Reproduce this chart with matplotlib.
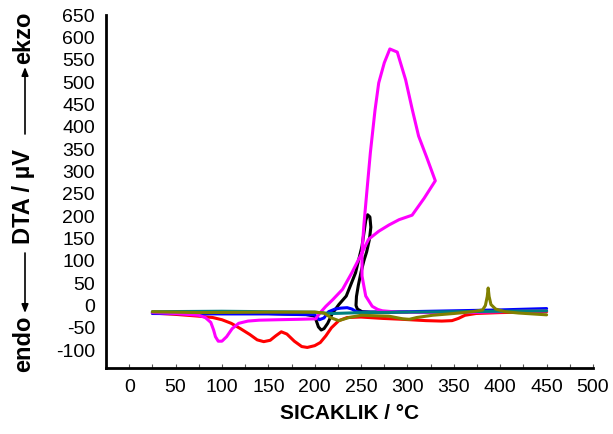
import matplotlib
matplotlib.use("Agg")
import matplotlib.pyplot as plt
from matplotlib.ticker import MultipleLocator

plt.rcParams['font.family'] = ['Liberation Sans', 'DejaVu Sans']
plt.rcParams['axes.unicode_minus'] = False

# DTA curves (temperature in degC, signal in microvolt)
red_t = [25, 50, 75, 90, 100, 110, 120, 130, 138, 145, 152, 158, 164, 170, 178, 186, 192, 200, 206,
         212, 218, 226, 235, 250, 273, 294, 320, 337, 348, 355, 362, 374, 400, 425, 450]
red_v = [-17, -20, -24, -27, -32, -40, -52, -65, -77, -81, -78, -68, -59, -64, -80, -92, -94, -90, -83,
         -68, -50, -34, -27, -26, -29, -31, -34, -35, -34, -29, -22, -18, -16, -15, -14]

mag_t = [25, 50, 75, 82, 88, 91, 93, 96, 100, 105, 111, 118, 128, 140, 160, 183, 201, 206, 212, 219,
         230, 240, 251, 258, 269, 280, 291, 305, 318, 330, 321, 312, 305, 298, 289, 281, 275, 269, 265,
         260, 256, 253, 251, 251, 253, 255, 262, 268, 273, 290, 320, 360, 400, 450]
mag_v = [-16, -18, -22, -27, -38, -55, -70, -80, -80, -70, -52, -40, -35, -33, -32, -31, -30, -16, -2, 12,
         36, 73, 118, 148, 166, 180, 192, 202, 240, 279, 330, 379, 440, 505, 567, 574, 543, 498, 437,
         342, 250, 180, 120, 66, 43, 21, -2, -9, -12, -15, -16, -16, -14, -12]

blk_t = [25, 100, 150, 190, 200, 204, 207, 210, 214, 219, 226, 234, 244, 251, 255, 257, 259.5, 260.5,
         259, 256, 253, 250, 247, 245, 244.5, 246, 251, 260, 280, 300]
blk_v = [-16, -17, -18, -20, -24, -48, -55, -52, -40, -18, 2, 21, 73, 133, 190, 203, 198, 175,
         148, 120, 100, 75, 45, 20, 0, -8, -14, -15, -15, -15]

blu_t = [25, 100, 150, 200, 205, 210, 215, 222, 228, 235, 240, 245, 250, 270, 300, 350, 400, 450]
blu_v = [-18, -19, -19, -21, -32, -28, -14, -8, -6, -5, -8, -14, -15, -15, -14, -12, -10, -7]

teal_t = [25, 100, 150, 200, 210, 220, 250, 300, 350, 400, 450]
teal_v = [-14, -13, -14, -15, -17, -18, -16, -15, -14, -13, -12]

olv_t = [25, 75, 150, 200, 210, 218, 226, 237, 250, 280, 295, 302, 310, 327, 350, 370, 381, 384,
         386, 387, 388, 390, 395, 405, 420, 450]
olv_v = [-14, -16, -15, -15, -17, -28, -34, -27, -22, -24, -30, -31, -27, -22, -18, -14, -10, 0,
         20, 39, 20, 2, -8, -14, -17, -21]

series = [
    (red_t, red_v, '#ff0000'),
    (blk_t, blk_v, '#000000'),
    (blu_t, blu_v, '#0000ff'),
    (mag_t, mag_v, '#ff00ff'),
    (teal_t, teal_v, '#008080'),
    (olv_t, olv_v, '#808000'),
]

fig = plt.figure(figsize=(6.13, 4.34), dpi=100)
ax = fig.add_axes([106 / 613, 1 - 368 / 434, (593 - 106) / 613, (368 - 15) / 434])

for t, v, c in series:
    ax.plot(t, v, color=c, lw=2.2, solid_joinstyle='round', solid_capstyle='round')

ax.set_xlim(-25, 500)
ax.set_ylim(-140, 650)
ax.xaxis.set_major_locator(MultipleLocator(50))
ax.xaxis.set_minor_locator(MultipleLocator(25))
ax.yaxis.set_major_locator(MultipleLocator(50))

for s in ['top', 'right']:
    ax.spines[s].set_visible(False)
for s in ['left', 'bottom']:
    ax.spines[s].set_linewidth(2.0)

ax.tick_params(axis='x', which='both', direction='in', length=3, width=0.8, color='#555555',
               labelsize=14, pad=8)
ax.tick_params(axis='y', which='both', length=0, labelsize=14, pad=8)

ax.set_xlabel('SICAKLIK / °C', fontsize=15, fontweight='bold', labelpad=6)

# vertical axis caption with direction arrows
cap = dict(rotation=90, ha='center', va='center', fontsize=17, fontweight='bold')
fig.text(23.5 / 613, 1 - 344 / 434, 'endo', **cap)
fig.text(23.5 / 613, 1 - 197 / 434, 'DTA / µV', **cap)
fig.text(23.5 / 613, 1 - 38 / 434, 'ekzo', **cap)
arrow = dict(arrowstyle='-|>,head_length=0.5,head_width=0.2', color='black', lw=1.2,
             shrinkA=0, shrinkB=0)
ax.annotate('', xy=(25, 434 - 313), xytext=(25, 434 - 253), xycoords='figure pixels',
            textcoords='figure pixels', arrowprops=arrow)
ax.annotate('', xy=(25, 434 - 67), xytext=(25, 434 - 134), xycoords='figure pixels',
            textcoords='figure pixels', arrowprops=arrow)

fig.savefig('out.png', dpi=100)
